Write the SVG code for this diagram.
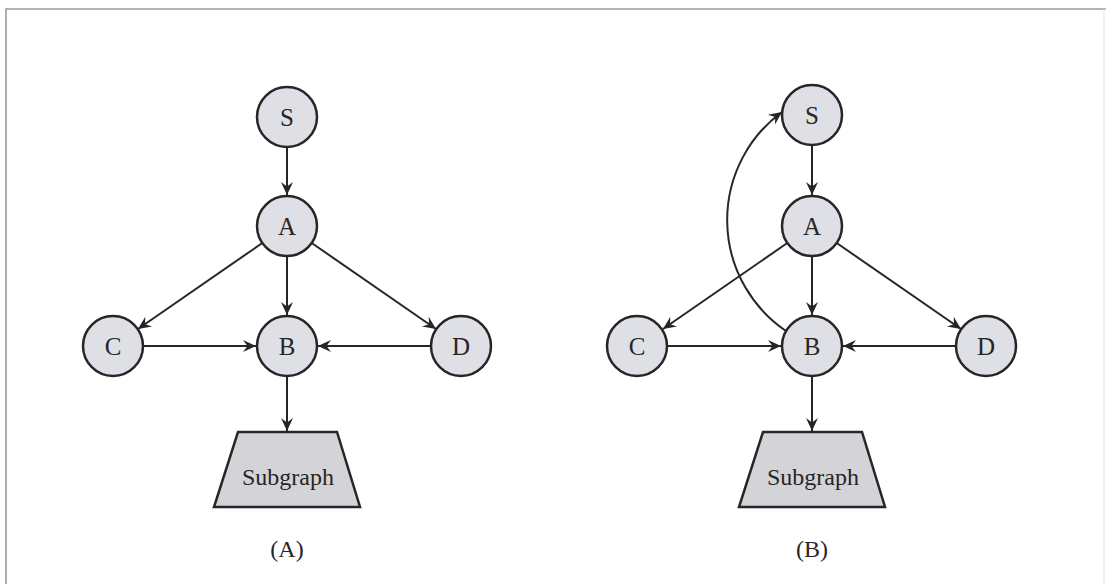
<svg xmlns="http://www.w3.org/2000/svg" width="1106" height="584" viewBox="0 0 1106 584">
  <defs>
    <style>
      .frame { stroke: #9a9a9a; stroke-width: 1.6; fill: none; }
      .node circle { fill: #dfdfe6; stroke: #262626; stroke-width: 2.5; }
      .node polygon { fill: #d4d4d8; stroke: #262626; stroke-width: 2.5; }
      .node text, .caption { font-family: "Liberation Serif", "Times New Roman", serif; fill: #262626; text-anchor: middle; }
      .node text { font-size: 25px; }
      .node .sub { font-size: 24px; }
      .caption { font-size: 24px; }
      .edge { stroke: #262626; stroke-width: 2; fill: none; marker-end: url(#arrow); }
    </style>
    <marker id="arrow" markerUnits="userSpaceOnUse" viewBox="-14 -7 15 14" refX="0" refY="0" markerWidth="15" markerHeight="14" orient="auto">
      <path d="M0,0 L-13,-6 L-8.5,0 L-13,6 Z" fill="#262626"/>
    </marker>
  </defs>

  <rect width="1106" height="584" fill="#ffffff"/>
  <!-- page frame -->
  <path class="frame" d="M6,584 V9 H1106"/>
  <path d="M1104,9 V584" stroke="#e4e4e4" stroke-width="1" fill="none"/>

  <!-- connectors -->
  <g id="connectors">
    <!-- left graph -->
    <line class="edge" x1="287" y1="147" x2="287" y2="195"/>
    <line class="edge" x1="262.3" y1="243" x2="138" y2="329"/>
    <line class="edge" x1="311.7" y1="243" x2="436" y2="329"/>
    <line class="edge" x1="287" y1="256" x2="287" y2="315"/>
    <line class="edge" x1="143" y1="346" x2="256" y2="346"/>
    <line class="edge" x1="431" y1="346" x2="318" y2="346"/>
    <line class="edge" x1="287" y1="376" x2="287" y2="431"/>
    <!-- right graph -->
    <line class="edge" x1="812" y1="145" x2="812" y2="195"/>
    <line class="edge" x1="787.3" y1="243" x2="663" y2="329"/>
    <line class="edge" x1="836.7" y1="243" x2="961" y2="329"/>
    <line class="edge" x1="812" y1="256" x2="812" y2="315"/>
    <line class="edge" x1="668" y1="346" x2="781" y2="346"/>
    <line class="edge" x1="956" y1="346" x2="843" y2="346"/>
    <line class="edge" x1="812" y1="376" x2="812" y2="431"/>
    <path class="edge" d="M786,331 A134,134 0 0 1 782,112"/>
  </g>

  <!-- left graph (A) -->
  <g id="a-S" class="node"><circle cx="287" cy="117" r="30"/><text x="287" y="126">S</text></g>
  <g id="a-A" class="node"><circle cx="287" cy="226" r="30"/><text x="287" y="235">A</text></g>
  <g id="a-C" class="node"><circle cx="113" cy="346" r="30"/><text x="113" y="355">C</text></g>
  <g id="a-B" class="node"><circle cx="287" cy="346" r="30"/><text x="287" y="355">B</text></g>
  <g id="a-D" class="node"><circle cx="461" cy="346" r="30"/><text x="461" y="355">D</text></g>
  <g id="a-Sub" class="node"><polygon points="238,432 337,432 360,507 214,507"/><text class="sub" x="288" y="485">Subgraph</text></g>
  <text class="caption" x="287" y="557">(A)</text>

  <!-- right graph (B) -->
  <g id="b-S" class="node"><circle cx="812" cy="115" r="30"/><text x="812" y="124">S</text></g>
  <g id="b-A" class="node"><circle cx="812" cy="226" r="30"/><text x="812" y="235">A</text></g>
  <g id="b-C" class="node"><circle cx="637" cy="346" r="30"/><text x="637" y="355">C</text></g>
  <g id="b-B" class="node"><circle cx="812" cy="346" r="30"/><text x="812" y="355">B</text></g>
  <g id="b-D" class="node"><circle cx="986" cy="346" r="30"/><text x="986" y="355">D</text></g>
  <g id="b-Sub" class="node"><polygon points="763,432 862,432 885,507 739,507"/><text class="sub" x="813" y="485">Subgraph</text></g>
  <text class="caption" x="812" y="557">(B)</text>
</svg>
